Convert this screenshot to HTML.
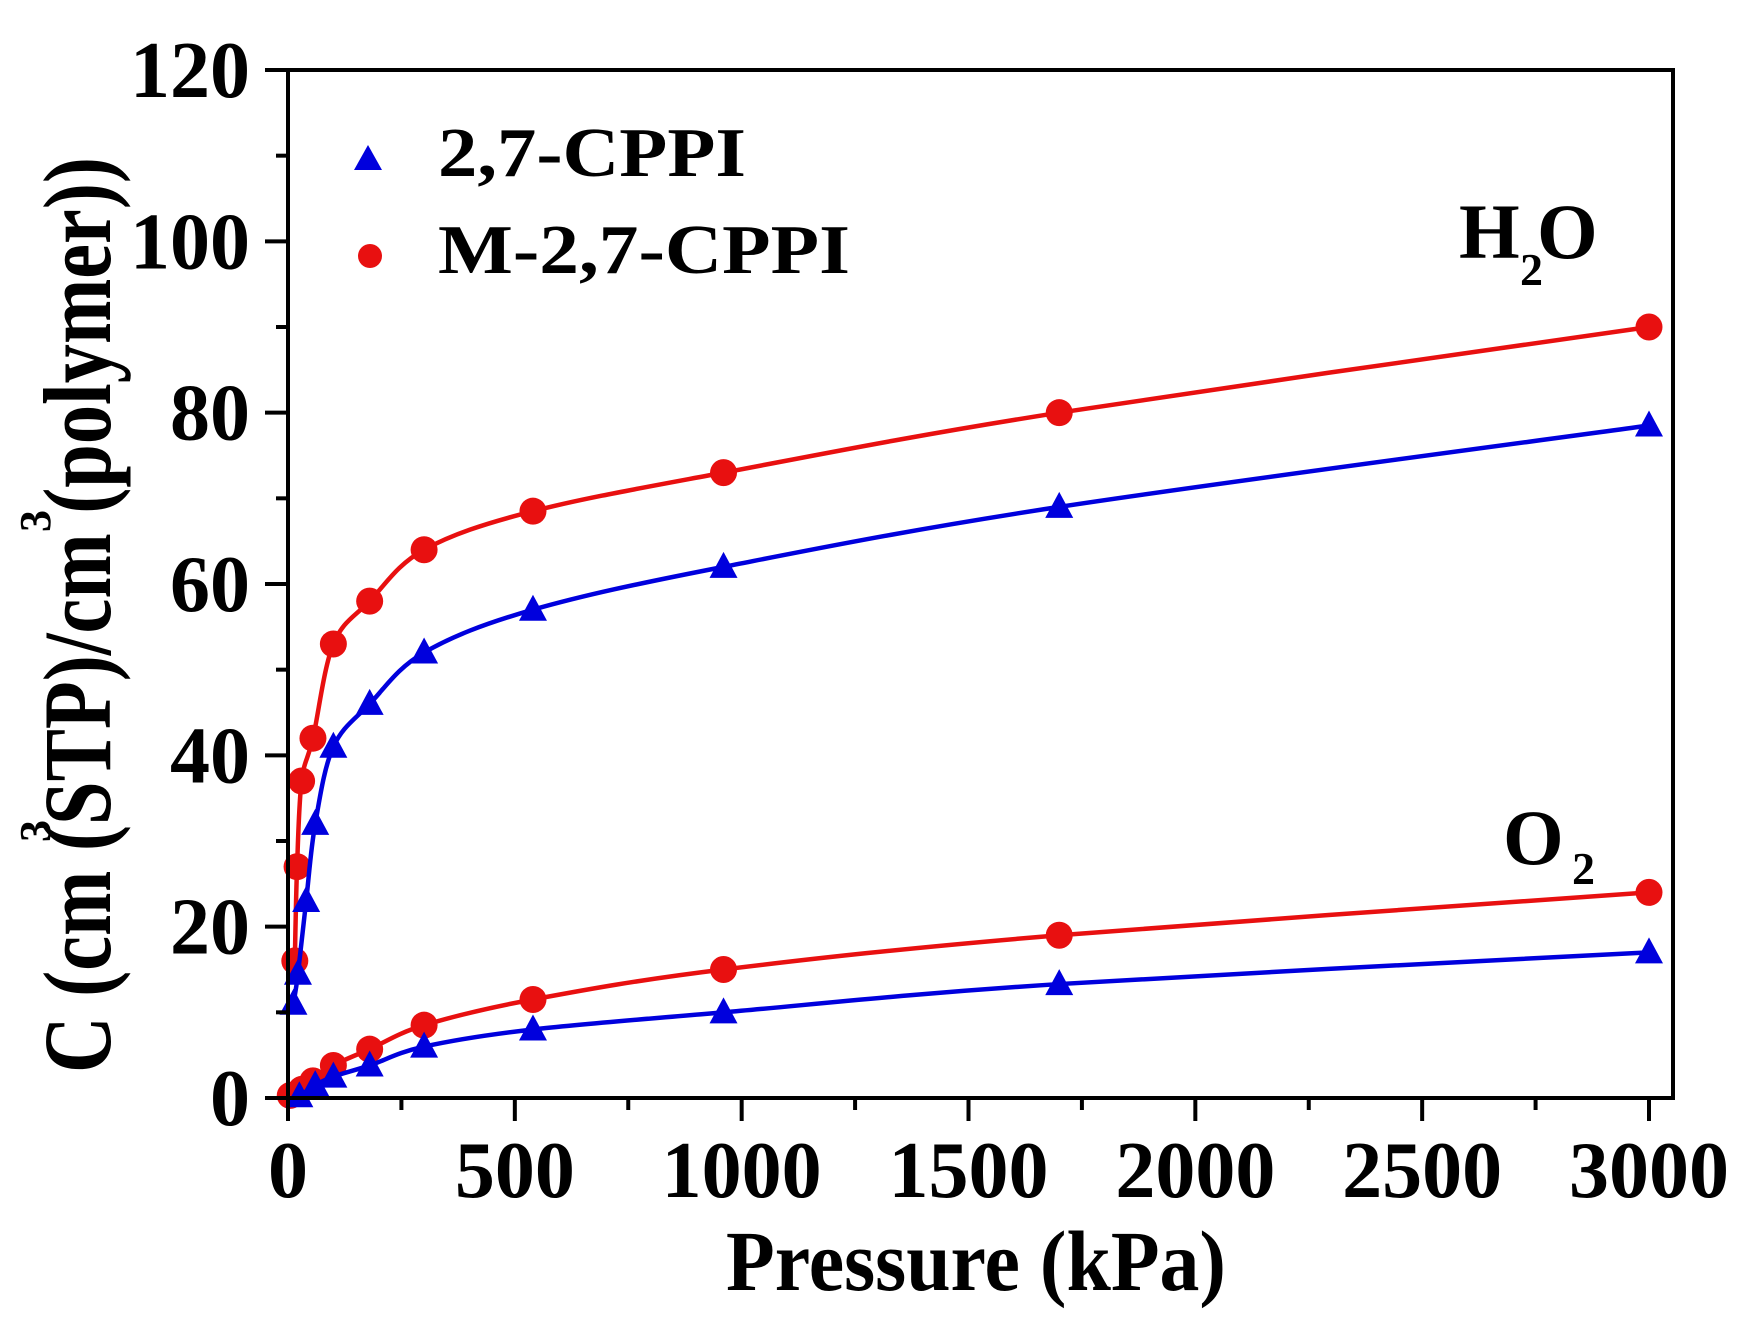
<!DOCTYPE html>
<html><head><meta charset="utf-8"><style>
html,body{margin:0;padding:0;background:#fff;}
svg{display:block;font-family:"Liberation Serif",serif;font-weight:bold;}
</style></head><body>
<svg id="s" width="1759" height="1321" viewBox="0 0 1759 1321" xmlns="http://www.w3.org/2000/svg">
<rect x="0" y="0" width="1759" height="1321" fill="#fff"/>
<g id="plot"></g>
<rect x="288" y="70" width="1385" height="1028" fill="none" stroke="#000" stroke-width="4"/>
<g id="ticks" stroke="#000" stroke-width="4"></g>
<g id="labels" font-size="80" fill="#000"></g>
<text x="976" y="1290" font-size="86" text-anchor="middle" textLength="500" lengthAdjust="spacingAndGlyphs">Pressure (kPa)</text>
<g transform="translate(110,615) rotate(-90)">
<text x="0" y="0" font-size="96" text-anchor="middle" textLength="916" lengthAdjust="spacingAndGlyphs">C (cm  (STP)/cm  (polymer))</text>
</g>
<text transform="translate(50,842) rotate(-90)" font-size="44">3</text>
<text transform="translate(50,532) rotate(-90)" font-size="44">3</text>
<text x="438" y="176" font-size="70" textLength="308" lengthAdjust="spacingAndGlyphs">2,7-CPPI</text>
<text x="438" y="273" font-size="70" textLength="412" lengthAdjust="spacingAndGlyphs">M-2,7-CPPI</text>
<polygon points="354,170 382,170 368,145" fill="#0000dd"/>
<circle cx="370" cy="256" r="12" fill="#e81010"/>
<text x="1459" y="258" font-size="78">H</text>
<text x="1520" y="285" font-size="46">2</text>
<text x="1537" y="258" font-size="78">O</text>
<text x="1503" y="864" font-size="78">O</text>
<text x="1572" y="884" font-size="46">2</text>
</svg>
<script>
var X=v=>288+v*1361/3000, Y=v=>1098-v*1028/120;
var ns="http://www.w3.org/2000/svg";
function el(p,t,a){var e=document.createElementNS(ns,t);for(var k in a)e.setAttribute(k,a[k]);p.appendChild(e);return e;}
var tk=document.getElementById('ticks'),lb=document.getElementById('labels'),pl=document.getElementById('plot');
for(var v=0;v<=3000;v+=250){var x=X(v);var maj=v%500==0;el(tk,'line',{x1:x,y1:1098,x2:x,y2:maj?1121:1110});
 if(maj){var t=el(lb,'text',{x:x,y:1197,'text-anchor':'middle'});t.textContent=v;}}
for(var v=0;v<=120;v+=10){var y=Y(v);var maj=v%20==0;el(tk,'line',{x1:288,y1:y,x2:maj?265:276,y2:y});
 if(maj){var t=el(lb,'text',{x:250,y:y+27,'text-anchor':'end'});t.textContent=v;}}
var S=[
 {c:'#e81010',m:'o',d:[[15,16],[20,27],[30,37],[55,42],[100,53],[180,58],[300,64],[540,68.5],[960,73],[1700,80],[3000,90]]},
 {c:'#0000dd',m:'t',d:[[12,11],[22,14.5],[40,23],[60,32],[100,41],[180,46],[300,52],[540,57],[960,62],[1700,69],[3000,78.5]]},
 {c:'#e81010',m:'o',d:[[5,0.3],[30,1],[55,2],[100,3.8],[180,5.7],[300,8.5],[540,11.5],[960,15],[1700,19],[3000,24]]},
 {c:'#0000dd',m:'t',d:[[25,0.2],[60,1.5],[100,2.5],[180,3.8],[300,6],[540,8],[960,10],[1700,13.3],[3000,17]]}];
S.forEach(function(s){var p=s.d.map(q=>[X(q[0]),Y(q[1])]);var d='M'+p[0];
 for(var i=0;i<p.length-1;i++){var a=p[i-1]||p[i],b=p[i],c=p[i+1],e=p[i+2]||c;
  d+=' C'+(b[0]+(c[0]-a[0])/6)+','+(b[1]+(c[1]-a[1])/6)+' '+(c[0]-(e[0]-b[0])/6)+','+(c[1]-(e[1]-b[1])/6)+' '+c;}
 el(pl,'path',{d:d,fill:'none',stroke:s.c,'stroke-width':4.5});
 p.forEach(function(q){if(s.m=='o')el(pl,'circle',{cx:q[0],cy:q[1],r:13.5,fill:s.c});
  else el(pl,'polygon',{points:(q[0]-14)+','+(q[1]+11)+' '+(q[0]+14)+','+(q[1]+11)+' '+q[0]+','+(q[1]-15),fill:s.c});});});
</script>
</body></html>
